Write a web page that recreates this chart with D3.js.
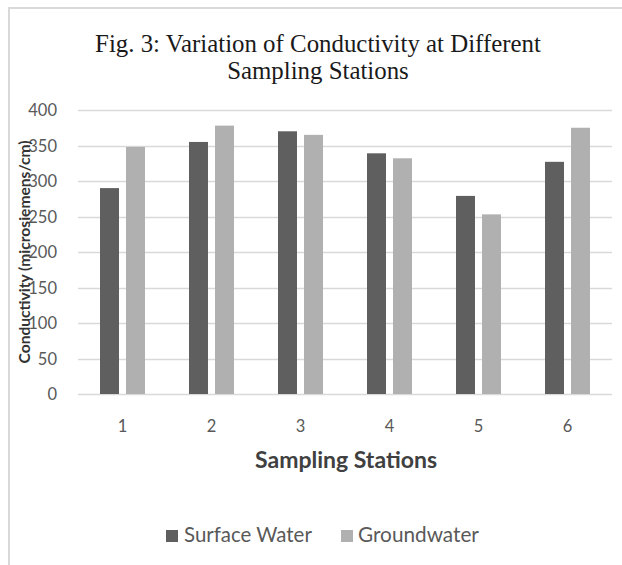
<!DOCTYPE html>
<html>
<head>
<meta charset="utf-8">
<script src="https://cdn.jsdelivr.net/npm/d3@7"></script>
<style>
  html, body { margin: 0; padding: 0; background: #fff; }
  svg { display: block; }
</style>
</head>
<body>
<svg id="chart" width="622" height="565"></svg>
<script>
const stations = ["1", "2", "3", "4", "5", "6"];
const seriesNames = ["Surface Water", "Groundwater"];
const surfaceWater = [290, 355, 370, 339, 279, 327];
const groundwater = [348, 378, 365, 332, 253, 375];
const yTicks = [0, 50, 100, 150, 200, 250, 300, 350, 400];
const colors = ["#5f5f5f", "#b0b0b0"];

const svg = d3.select("#chart");
const W = 622, H = 565;
const plot = { left: 78, right: 612, top: 110, bottom: 394 };

// frame
svg.append("path")
  .attr("d", `M9,${H} L9,8 L${W},8`)
  .attr("fill", "none").attr("stroke", "#d9d9d9").attr("stroke-width", 2);

const sans = "Lato, 'Open Sans', sans-serif";

// helper to fit text width
function fit(sel, target) {
  const w = sel.node().getComputedTextLength();
  const fs = parseFloat(sel.attr("font-size"));
  sel.attr("font-size", (fs * target / w).toFixed(2));
}

// title
const title1 = svg.append("text").attr("x", 318).attr("y", 52)
  .attr("text-anchor", "middle").attr("font-family", "'Liberation Serif', 'Times New Roman', serif")
  .attr("font-size", 22).attr("fill", "#1a1a1a")
  .text("Fig. 3: Variation of Conductivity at Different");
fit(title1, 446);
const title2 = svg.append("text").attr("x", 318).attr("y", 79)
  .attr("text-anchor", "middle").attr("font-family", "'Liberation Serif', 'Times New Roman', serif")
  .attr("font-size", title1.attr("font-size")).attr("fill", "#1a1a1a")
  .text("Sampling Stations");

const y = d3.scaleLinear().domain([0, 400]).range([plot.bottom, plot.top]);
const x0 = d3.scaleBand().domain(stations).range([plot.left, plot.right]);
const groupW = 45;
const x1 = d3.scaleBand().domain(seriesNames).range([0, groupW]).paddingInner(0.27);

// gridlines
svg.append("g").selectAll("line").data(yTicks).join("line")
  .attr("x1", plot.left).attr("x2", plot.right)
  .attr("y1", d => Math.round(y(d)) + 0.5).attr("y2", d => Math.round(y(d)) + 0.5)
  .attr("stroke", "#d9d9d9").attr("stroke-width", 1.5);

// y axis labels
const yAxis = d3.axisLeft(y).tickValues(yTicks).tickSize(0).tickPadding(0);
const gy = svg.append("g").attr("transform", `translate(57,0)`).call(yAxis);
gy.select(".domain").remove();
gy.selectAll("text").attr("font-family", sans).attr("font-size", 16.5).attr("fill", "#595959").attr("dy", "0.35em");

// bars
const data = stations.map((s, i) => ({ station: s, values: [surfaceWater[i], groundwater[i]] }));
const groups = svg.append("g").selectAll("g").data(data).join("g")
  .attr("transform", d => `translate(${x0(d.station) + (x0.bandwidth() - groupW) / 2},0)`);
groups.selectAll("rect").data(d => d.values.map((v, j) => ({ key: seriesNames[j], v, j }))).join("rect")
  .attr("x", d => x1(d.key)).attr("width", x1.bandwidth())
  .attr("y", d => y(d.v)).attr("height", d => y(0) - y(d.v))
  .attr("fill", d => colors[d.j]);

// x axis labels
const xAxis = d3.axisBottom(x0).tickSize(0).tickPadding(0);
const gx = svg.append("g").attr("transform", `translate(0,${plot.bottom + 38})`).call(xAxis);
gx.select(".domain").remove();
gx.selectAll("text").attr("font-family", sans).attr("font-size", 16.5).attr("fill", "#595959").attr("dy", 0);

// axis titles
const xt = svg.append("text").attr("x", 346).attr("y", 468).attr("text-anchor", "middle")
  .attr("font-family", sans).attr("font-weight", "bold").attr("font-size", 19).attr("fill", "#404040")
  .text("Sampling Stations");
fit(xt, 182);

const yt = svg.append("text").attr("transform", "translate(30,252) rotate(-90)").attr("text-anchor", "middle")
  .attr("font-family", sans).attr("font-weight", "bold").attr("font-size", 12.5).attr("fill", "#333333")
  .text("Conductivity (microsiemens/cm)");
fit(yt, 223);

// legend
const legend = svg.append("g");
const legendItems = [{ name: seriesNames[0], sx: 166, tx: 184, w: 128 }, { name: seriesNames[1], sx: 341, tx: 358, w: 121 }];
legendItems.forEach((it, i) => {
  legend.append("rect").attr("x", it.sx).attr("y", 530).attr("width", 12).attr("height", 12).attr("fill", colors[i]);
  const t = legend.append("text").attr("x", it.tx).attr("y", 542)
    .attr("font-family", sans).attr("font-size", 17).attr("fill", "#595959").text(it.name);
  fit(t, it.w);
});
</script>
</body>
</html>
